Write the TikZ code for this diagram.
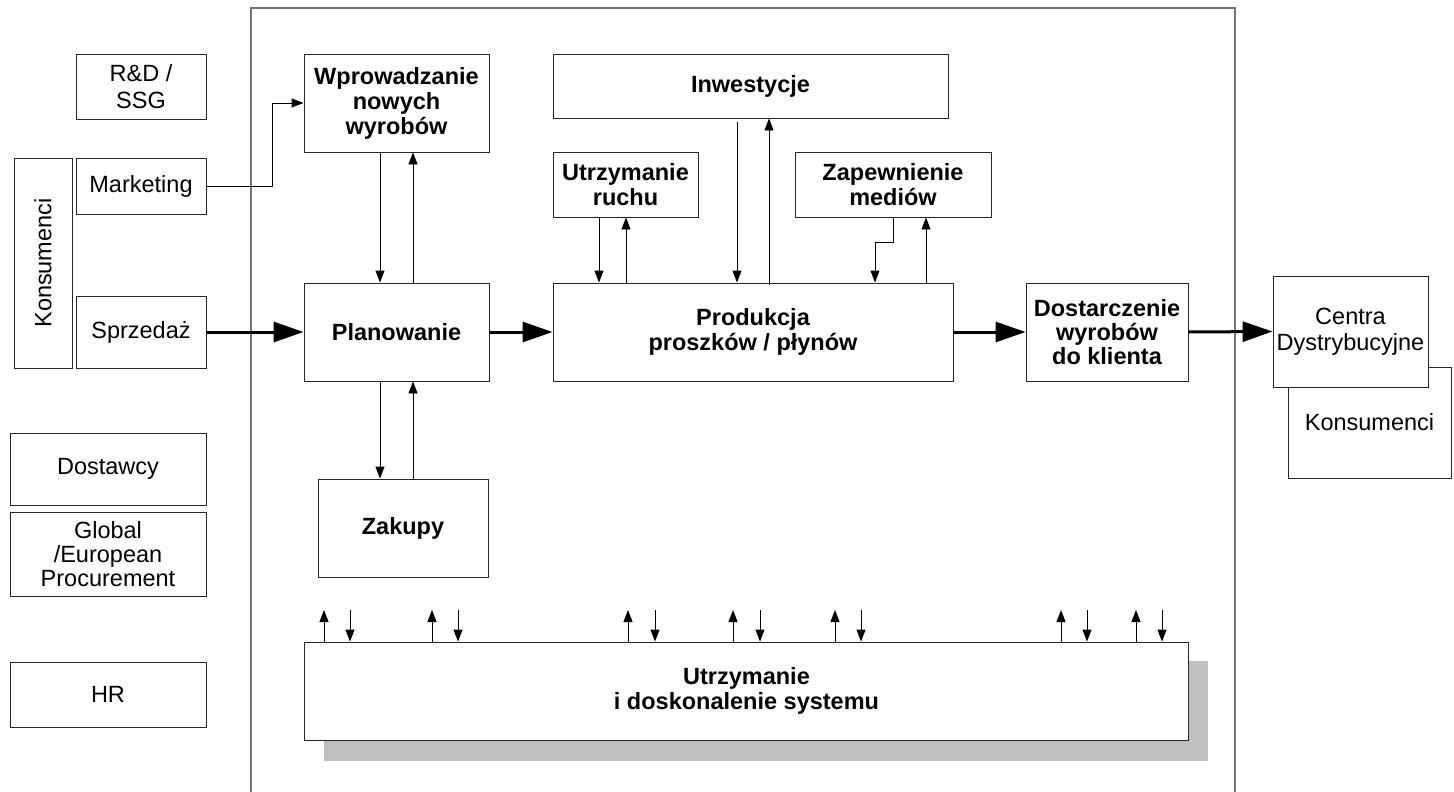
\documentclass[tikz,border=0pt]{standalone}
\usepackage{fontspec}
\setmainfont{Liberation Sans}
\usetikzlibrary{arrows.meta}
\begin{document}
\begin{tikzpicture}[x=1pt,y=-1pt,
  box/.style={draw=black!85, line width=0.9pt, fill=white, inner sep=0pt, align=center,
    font=\fontsize{23.5}{25.5}\selectfont},
  bbox/.style={box, font=\bfseries\fontsize{23.5}{25}\selectfont},
  arr/.style={draw=black, line width=0.9pt, -{Triangle[length=12pt,width=9pt]}},
  tarr/.style={draw=black, line width=3pt, -{Triangle[length=30pt,width=20pt]}}
]
\useasboundingbox (0,0) rectangle (1454,792);
% frame
\draw[black!55, line width=1.6pt] (251,792) -- (251,8) -- (1235,8) -- (1235,792);

% left boxes
\node[box, minimum width=130, minimum height=65, font=\fontsize{23.5}{27}\selectfont] (rd) at (141,86.5) {R\&D /\\SSG};
\node[box, minimum width=210, minimum height=58, rotate=90] (kons) at (43,263) {Konsumenci};
\node[box, minimum width=130, minimum height=56] (mkt) at (141,186) {Marketing};
\node[box, minimum width=130, minimum height=72] (spr) at (141,332) {Sprzedaż};
\node[box, minimum width=196, minimum height=72] (dost) at (108,469) {Dostawcy};
\node[box, minimum width=196, minimum height=84, font=\fontsize{23.5}{24}\selectfont] (glob) at (108,554) {Global\\/European\\Procurement};
\node[box, minimum width=196, minimum height=65] (hr) at (108,694.5) {HR};

% inner boxes
\node[bbox, minimum width=185, minimum height=98] (wpr) at (396.5,103) {Wprowadzanie\\nowych\\wyrobów};
\node[bbox, minimum width=185, minimum height=98] (plan) at (396.5,332) {Planowanie};
\node[bbox, minimum width=170, minimum height=98] (zak) at (403,528) {Zakupy};
\node[bbox, minimum width=395, minimum height=64] (inw) at (750.5,86) {Inwestycje};
\node[bbox, minimum width=145, minimum height=65] (ur) at (625.5,184.5) {Utrzymanie\\ruchu};
\node[bbox, minimum width=196, minimum height=65] (zm) at (893,184.5) {Zapewnienie\\mediów};
\node[bbox, minimum width=400, minimum height=98] (prod) at (753,332) {Produkcja\\proszków / płynów};
\node[bbox, minimum width=162, minimum height=98, font=\bfseries\fontsize{23.5}{24}\selectfont] (dos) at (1107,332) {Dostarczenie\\wyrobów\\do klienta};

% right boxes
\node[box, minimum width=163, minimum height=111] (kon2) at (1369.5,422.5) {Konsumenci};
\node[box, minimum width=155, minimum height=111] (cen) at (1350.5,331.5) {Centra\\Dystrybucyjne};

% system box with shadow
\fill[black!25] (324,661) rectangle (1208,761);
\node[bbox, minimum width=884, minimum height=98] (sys) at (746.5,691) {Utrzymanie\\i doskonalenie systemu};

% column coordinates
\foreach \x in {380,413,599,626,737,769,875,893,926,324,350,432,458,628,655,733,760,835,861,1061,1087,1136,1162}
  \coordinate (c\x) at (\x,0);
\coordinate (srow) at (0,610);
\coordinate (zmbend) at (0,242);

% marketing connector
\draw[arr] (mkt.east) -- ++(66,0) |- (wpr.west);

% thick flow
\draw[tarr] (spr.east) -- (plan.west);
\draw[tarr] (plan.east) -- (prod.west);
\draw[tarr] (prod.east) -- (dos.west);
\draw[tarr] (dos.east) -- (cen.west);

% wpr <-> plan
\draw[arr] (wpr.south -| c380) -- (plan.north -| c380);
\draw[arr] (plan.north -| c413) -- (wpr.south -| c413);
% plan <-> zak
\draw[arr] (plan.south -| c380) -- (zak.north -| c380);
\draw[arr] (zak.north -| c413) -- (plan.south -| c413);
% ur <-> prod
\draw[arr] (ur.south -| c599) -- (prod.north -| c599);
\draw[arr] (prod.north -| c626) -- (ur.south -| c626);
% inw <-> prod
\draw[arr] ([yshift=-4pt]inw.south -| c737) -- (prod.north -| c737);
\draw[arr] ([yshift=-2pt]prod.north -| c769) -- (inw.south -| c769);
% zm <-> prod
\draw[arr] (zm.south -| c893) -- (zmbend -| c893) -- (zmbend -| c875) -- (prod.north -| c875);
\draw[arr] (prod.north -| c926) -- (zm.south -| c926);

% system arrows
\foreach \u/\d in {324/350,432/458,628/655,733/760,835/861,1061/1087,1136/1162}{
  \draw[arr] (sys.north -| c\u) -- (srow -| c\u);
  \draw[arr] (srow -| c\d) -- (sys.north -| c\d);
}
\end{tikzpicture}
\end{document}
